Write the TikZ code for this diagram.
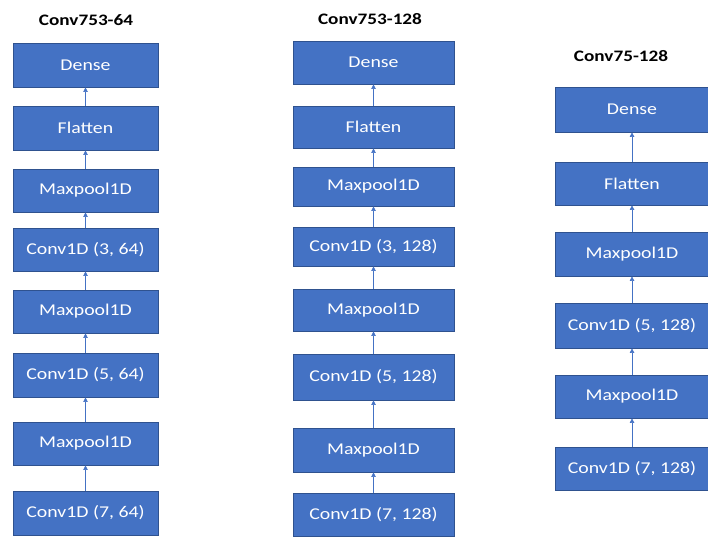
\documentclass[tikz,border=0pt]{standalone}
\usepackage{fontspec}
\setmainfont{Carlito}[FakeStretch=1.2]
\usetikzlibrary{arrows.meta}
\definecolor{boxfill}{HTML}{4472C4}
\definecolor{boxline}{HTML}{2F528F}
\definecolor{arrowc}{HTML}{4472C4}
\begin{document}
\begin{tikzpicture}[x=1pt,y=-1pt,
  blk/.style={draw=boxline, line width=0.8pt, fill=boxfill, text=white,
    font=\fontsize{16.5}{18}\selectfont, inner sep=0pt},
  ttl/.style={font=\fontsize{16}{18}\selectfont\bfseries, text=black, inner sep=0pt},
  flow/.style={draw=arrowc, line width=0.6pt, -{Triangle[width=4.5pt,length=4.5pt]}}]
\useasboundingbox (0,0) rectangle (708,536);
\clip (0,0) rectangle (708,536);

% titles
\node[ttl] (t1) at (86,20) {Conv753-64};
\node[ttl] (t2) at (370,19) {Conv753-128};
\node[ttl] (t3) at (621,56) {Conv75-128};

% column 1
\begin{scope}[every node/.append style={minimum width=145pt}]
\node[blk, minimum height=44pt] (a1) at (85.5,65) {Dense};
\node[blk, minimum height=44pt] (a2) at (85.5,128) {Flatten};
\node[blk, minimum height=43pt] (a3) at (85.5,190.5) {Maxpool1D};
\node[blk, minimum height=43pt] (a4) at (85.5,249.5) {Conv1D (3, 64)};
\node[blk, minimum height=43pt] (a5) at (85.5,311.5) {Maxpool1D};
\node[blk, minimum height=44pt] (a6) at (85.5,375) {Conv1D (5, 64)};
\node[blk, minimum height=43pt] (a7) at (85.5,443.5) {Maxpool1D};
\node[blk, minimum height=44pt] (a8) at (85.5,513) {Conv1D (7, 64)};
\end{scope}

% column 2
\begin{scope}[every node/.append style={minimum width=161pt}]
\node[blk, minimum height=43pt] (b1) at (373.5,62.5) {Dense};
\node[blk, minimum height=42pt] (b2) at (373.5,127) {Flatten};
\node[blk, minimum height=39pt] (b3) at (373.5,186.5) {Maxpool1D};
\node[blk, minimum height=39pt] (b4) at (373.5,246.5) {Conv1D (3, 128)};
\node[blk, minimum height=42pt] (b5) at (373.5,310) {Maxpool1D};
\node[blk, minimum height=46pt] (b6) at (373.5,377) {Conv1D (5, 128)};
\node[blk, minimum height=44pt] (b7) at (373.5,450) {Maxpool1D};
\node[blk, minimum height=43pt] (b8) at (373.5,514.5) {Conv1D (7, 128)};
\end{scope}

% column 3
\begin{scope}[every node/.append style={minimum width=154pt}]
\node[blk, minimum height=45pt] (c1) at (632,109.5) {Dense};
\node[blk, minimum height=43pt] (c2) at (632,183.5) {Flatten};
\node[blk, minimum height=44pt] (c3) at (632,254) {Maxpool1D};
\node[blk, minimum height=45pt] (c4) at (632,325.5) {Conv1D (5, 128)};
\node[blk, minimum height=43pt] (c5) at (632,396.5) {Maxpool1D};
\node[blk, minimum height=43pt] (c6) at (632,468.5) {Conv1D (7, 128)};
\end{scope}

% connectors
\foreach \lo/\hi in {a8/a7,a7/a6,a6/a5,a5/a4,a4/a3,a3/a2,a2/a1,
                     b8/b7,b7/b6,b6/b5,b5/b4,b4/b3,b3/b2,b2/b1,
                     c6/c5,c5/c4,c4/c3,c3/c2,c2/c1}
  \draw[flow] (\lo.north) -- (\hi.south);
\end{tikzpicture}
\end{document}
